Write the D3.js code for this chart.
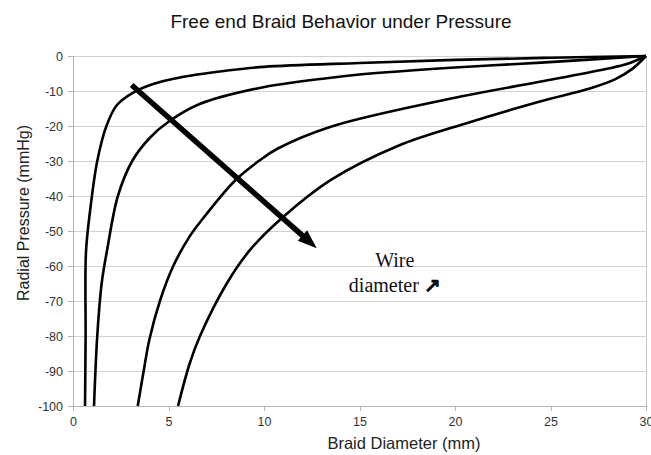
<!DOCTYPE html>
<html>
<head>
<meta charset="utf-8">
<script src="https://cdn.jsdelivr.net/npm/d3@7"></script>
<style>
  html, body { margin: 0; padding: 0; background: #fff; }
  svg { display: block; }
</style>
</head>
<body>
<svg id="chart" width="651" height="455"></svg>
<script>
// Braid diameter (mm) vs. radial pressure (mmHg), one curve per wire diameter
const braidThin = [[0.63,-100],[0.66,-80],[0.68,-56],[0.9,-44],[1.27,-30],[1.75,-20],[2.3,-14],[3.2,-10.3],[4.2,-8],[5.2,-6.6],[6.5,-5.3],[8,-4.2],[10,-3.1],[15,-2],[20,-1.1],[25,-0.5],[30,0]];
const braidMid1 = [[1.1,-100],[1.27,-80],[1.5,-65],[1.8,-55],[2.35,-40],[3.1,-30],[4.0,-23.5],[5.0,-18.8],[6.6,-13.8],[9.7,-9.2],[13.5,-6.2],[15,-5.3],[20,-3.3],[24.5,-1.9],[30,0]];
const braidMid2 = [[3.39,-100],[3.7,-90],[4.0,-81],[4.55,-70],[5.25,-60],[6.1,-51.6],[6.65,-47.5],[8.5,-35.5],[9.8,-29.7],[10.7,-26.5],[13.5,-20.2],[20.3,-11.6],[24.5,-7.3],[27.9,-3.7],[29,-2.3],[30,0]];
const braidThick = [[5.5,-100],[6.1,-88],[6.65,-80],[8.05,-65],[9.27,-55.4],[11,-46],[13.5,-35.4],[17,-25.7],[20.3,-19.7],[24.45,-13],[27.1,-9.2],[28.4,-6.6],[29.3,-3.6],[30,0]];
const series = [braidThin, braidMid1, braidMid2, braidThick];

const xTicks = [0, 5, 10, 15, 20, 25, 30];
const yTicks = [0, -10, -20, -30, -40, -50, -60, -70, -80, -90, -100];

const titleText = "Free end Braid Behavior under Pressure";
const xLabel = "Braid Diameter (mm)";
const yLabel = "Radial Pressure (mmHg)";

// Annotation: arrow showing increasing wire diameter
const arrowFrom = [3.07, -8.3];
const arrowTo = [12.76, -54.9];
const noteAt = [16.85, -60.2];

const svg = d3.select("#chart");
const margin = { left: 73, right: 5, top: 56, bottom: 49 };
const W = 651, H = 455;

const x = d3.scaleLinear().domain([0, 30]).range([margin.left, W - margin.right]);
const y = d3.scaleLinear().domain([-100, 0]).range([H - margin.bottom, margin.top]);

const sans = "'Liberation Sans', Arial, sans-serif";

// Horizontal gridlines
svg.append("g")
  .selectAll("line")
  .data(yTicks)
  .join("line")
  .attr("x1", x(0)).attr("x2", x(30))
  .attr("y1", d => y(d)).attr("y2", d => y(d))
  .attr("stroke", "#d2d2d2").attr("stroke-width", 1)
  .attr("shape-rendering", "crispEdges");

// Right border of plot area
svg.append("line")
  .attr("x1", x(30)).attr("x2", x(30))
  .attr("y1", y(0)).attr("y2", y(-100))
  .attr("stroke", "#c8c8c8").attr("shape-rendering", "crispEdges");

// Axes
const yAxis = d3.axisLeft(y).tickValues(yTicks).tickSize(5).tickPadding(5)
  .tickFormat(d => String(d).replace("\u2212", "-"));
const xAxis = d3.axisBottom(x).tickValues(xTicks).tickSize(5).tickPadding(6)
  .tickFormat(d => String(d));

const gy = svg.append("g").attr("transform", `translate(${x(0)},0)`).call(yAxis);
const gx = svg.append("g").attr("transform", `translate(0,${y(-100)})`).call(xAxis);
[gy, gx].forEach(g => {
  g.select(".domain").attr("stroke", "#b4b4b4").attr("shape-rendering", "crispEdges");
  g.selectAll(".tick line").attr("stroke", "#b4b4b4").attr("shape-rendering", "crispEdges");
  g.selectAll(".tick text").attr("fill", "#333").attr("font-family", sans).attr("font-size", 12.5);
});

// Curves
const line = d3.line()
  .x(d => x(d[0])).y(d => y(d[1]))
  .curve(d3.curveCatmullRom.alpha(0.5));

svg.append("g")
  .selectAll("path")
  .data(series)
  .join("path")
  .attr("d", line)
  .attr("fill", "none")
  .attr("stroke", "#000")
  .attr("stroke-width", 2.6)
  .attr("stroke-linejoin", "round");

// Arrow annotation
{
  const x0 = x(arrowFrom[0]), y0 = y(arrowFrom[1]);
  const x1 = x(arrowTo[0]), y1 = y(arrowTo[1]);
  const ang = Math.atan2(y1 - y0, x1 - x0);
  const headLen = 19, headHalf = 7;
  const bx = x1 - headLen * Math.cos(ang), by = y1 - headLen * Math.sin(ang);
  svg.append("line")
    .attr("x1", x0).attr("y1", y0)
    .attr("x2", bx + 2 * Math.cos(ang)).attr("y2", by + 2 * Math.sin(ang))
    .attr("stroke", "#000").attr("stroke-width", 5.5);
  const px = -Math.sin(ang), py = Math.cos(ang);
  svg.append("path")
    .attr("d", `M${x1},${y1}L${bx + headHalf * px},${by + headHalf * py}L${bx - headHalf * px},${by - headHalf * py}Z`)
    .attr("fill", "#000");
}

// Annotation text
const serif = "'Liberation Serif', 'Times New Roman', serif";
const note = svg.append("text")
  .attr("x", x(noteAt[0])).attr("y", y(noteAt[1]))
  .attr("text-anchor", "middle")
  .attr("font-family", serif)
  .attr("font-size", 20)
  .attr("fill", "#111");
note.append("tspan").attr("x", x(noteAt[0])).text("Wire");
const second = note.append("tspan").attr("x", x(noteAt[0])).attr("dy", 25);
second.append("tspan").text("diameter ");
second.append("tspan").attr("stroke", "#000").attr("stroke-width", 1.1).text("\u2197");

// Title
svg.append("text")
  .attr("x", 341).attr("y", 28)
  .attr("text-anchor", "middle")
  .attr("font-family", sans).attr("font-size", 19).attr("fill", "#111")
  .text(titleText);

// Axis titles
svg.append("text")
  .attr("x", 404).attr("y", 449)
  .attr("text-anchor", "middle")
  .attr("font-family", sans).attr("font-size", 16.5).attr("fill", "#222")
  .text(xLabel);

svg.append("text")
  .attr("transform", "translate(29,213) rotate(-90)")
  .attr("text-anchor", "middle")
  .attr("font-family", sans).attr("font-size", 16).attr("fill", "#222")
  .text(yLabel);
</script>
</body>
</html>
